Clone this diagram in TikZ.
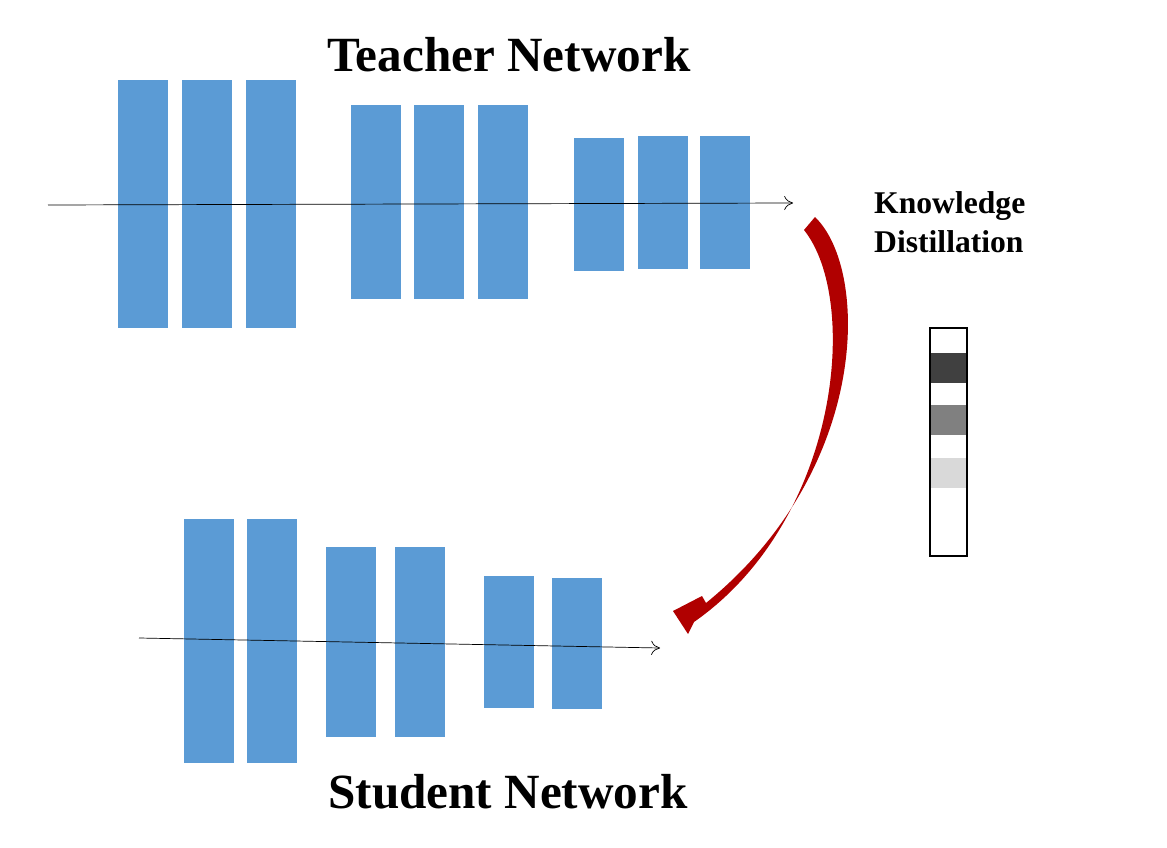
\documentclass[tikz,border=0pt]{standalone}
\usepackage{fontspec}
\setmainfont{Liberation Serif}
\usetikzlibrary{arrows.meta}
\definecolor{layerblue}{HTML}{5B9BD5}
\definecolor{kdred}{HTML}{B00000}
\begin{document}
\begin{tikzpicture}[x=0.02cm,y=-0.02cm,
    layer/.style={fill=layerblue},
    title/.style={font=\bfseries\fontsize{28}{32}\selectfont},
    flow/.style={-{To[length=5pt,width=8pt]},thin}]
    \useasboundingbox (0,0) rectangle (1167,848);
    % teacher
    \foreach \xa/\ya/\yb in {118/80/328,182/80/328,246/80/328,351/105/299,414/105/299,478/105/299,574/138/271,638/136/269,700/136/269}{
        \fill[layer] (\xa,\ya) rectangle ++(50,\yb-\ya);
    }
    \coordinate (tin) at (48,205);
    \coordinate (tout) at (793,203);
    \draw[flow] (tin) -- (tout);
    % student
    \foreach \xa/\ya/\yb in {184/519/763,247/519/763,326/547/737,395/547/737,484/576/708,552/578/709}{
        \fill[layer] (\xa,\ya) rectangle ++(50,\yb-\ya);
    }
    \coordinate (sin) at (139,638);
    \coordinate (sout) at (660,648);
    \draw[flow] (sin) -- (sout);
    \node[title] (teacher) at (509,55) {Teacher Network};
    \node[title] (student) at (508,792) {Student Network};
    \node[font=\bfseries\fontsize{18}{22}\selectfont,align=left,anchor=west] (kd) at (868,222) {Knowledge\\Distillation};
    % soft label bar
    \fill[black!75] (930,353) rectangle (967,383);
    \fill[black!50] (930,405) rectangle (967,435);
    \fill[black!15] (930,458) rectangle (967,488);
    \draw[thick] (930,328) rectangle (967,556);
    % distillation arrow
    \fill[kdred] (804,230) -- (815,217) .. controls (870,270) and (870,470) .. (706,603)
        -- (702,596) -- (673,611) -- (688,634) -- (694,622)
        .. controls (840,520) and (860,300) .. (804,230) -- cycle;
\end{tikzpicture}
\end{document}
